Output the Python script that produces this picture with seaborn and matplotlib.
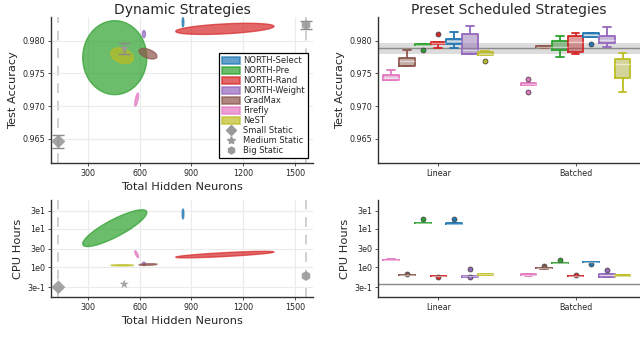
import numpy as np
import pandas as pd
import matplotlib
matplotlib.use("Agg")
import matplotlib.pyplot as plt
import seaborn as sns
from matplotlib.patches import Patch
from matplotlib.lines import Line2D

# ---------------- data ----------------
methods = ["NORTH-Select", "NORTH-Pre", "NORTH-Rand", "NORTH-Weight", "GradMax", "Firefly", "NeST"]
method_colors = ["#1f77b4", "#2ca02c", "#d62728", "#9467bd", "#8c564b", "#e377c2", "#bcbd22"]

# dynamic strategies: mean / spread of hidden neurons, accuracy, log10 CPU hours
neurons_mean = [851, 455, 1094, 624, 648, 582, 498]
neurons_spread = [5, 186, 285, 9, 52, 11, 65]
acc_mean = [0.9828, 0.9774, 0.9818, 0.9810, 0.9780, 0.9710, 0.9777]
acc_spread = [0.0007, 0.00565, 0.00085, 0.00055, 0.0008, 0.0010, 0.0012]
acc_corr = [0.0, 0.0, 0.45, 0.0, -0.5, 0.7, -0.3]
cpu_logmean = [1.39, 1.02, 0.33, 0.09, 0.07, 0.34, 0.05]
cpu_logspread = [0.13, 0.48, 0.085, 0.045, 0.022, 0.09, 0.016]
cpu_corr = [0.0, 0.85, 0.8, 0.0, 0.3, -0.8, 0.0]

static_names = ["Small Static", "Medium Static", "Big Static"]
static_markers = ["D", "*", "h"]
static_neurons = [128, 510, 1565]
static_acc = [0.9646, 0.9788, 0.9824]
static_acc_err = [0.0010, 0.0009, 0.0006]
static_cpu = [0.30, 0.36, 0.59]
static_cpu_err = [0.01, 0.01, 0.01]

# preset scheduled strategies (5 runs each)
schedules = ["Linear", "Batched"]
box_order = ["Firefly", "GradMax", "NORTH-Pre", "NORTH-Rand", "NORTH-Select", "NORTH-Weight", "NeST"]
acc_linear = {
    "Firefly": [0.9740, 0.9740, 0.9743, 0.9748, 0.9755],
    "GradMax": [0.9761, 0.9762, 0.9769, 0.9773, 0.9785],
    "NORTH-Pre": [0.97862, 0.9793, 0.9794, 0.9795, 0.9795],
    "NORTH-Rand": [0.97893, 0.97945, 0.9796, 0.97985, 0.98098],
    "NORTH-Select": [0.97893, 0.97945, 0.9799, 0.98025, 0.98135],
    "NORTH-Weight": [0.9779, 0.97797, 0.9785, 0.98098, 0.9823],
    "NeST": [0.97688, 0.97777, 0.9780, 0.97832, 0.97835],
}
acc_batched = {
    "Firefly": [0.9722, 0.97315, 0.9733, 0.9735, 0.9741],
    "GradMax": [0.9789, 0.9790, 0.97908, 0.9792, 0.9792],
    "NORTH-Pre": [0.97755, 0.97858, 0.9790, 0.97995, 0.98077],
    "NORTH-Rand": [0.97797, 0.97832, 0.97985, 0.98077, 0.98123],
    "NORTH-Select": [0.97955, 0.98052, 0.9808, 0.98113, 0.98115],
    "NORTH-Weight": [0.97904, 0.9796, 0.9801, 0.98072, 0.98205],
    "NeST": [0.97211, 0.97434, 0.9765, 0.9772, 0.97817],
}
cpu_linear = {
    "Firefly": [1.50, 1.52, 1.55, 1.58, 1.60],
    "GradMax": [0.62, 0.625, 0.63, 0.635, 0.67],
    "NORTH-Pre": [14.0, 14.2, 14.3, 14.5, 18.2],
    "NORTH-Rand": [0.55, 0.575, 0.58, 0.585, 0.59],
    "NORTH-Select": [13.2, 13.5, 13.8, 14.1, 18.5],
    "NORTH-Weight": [0.55, 0.57, 0.575, 0.58, 0.92],
    "NeST": [0.62, 0.63, 0.65, 0.67, 0.68],
}
cpu_batched = {
    "Firefly": [0.59, 0.61, 0.63, 0.66, 0.67],
    "GradMax": [0.92, 0.93, 0.94, 0.95, 1.08],
    "NORTH-Pre": [1.27, 1.29, 1.30, 1.32, 1.50],
    "NORTH-Rand": [0.58, 0.585, 0.59, 0.595, 0.64],
    "NORTH-Select": [1.20, 1.33, 1.35, 1.37, 1.38],
    "NORTH-Weight": [0.56, 0.57, 0.61, 0.655, 0.87],
    "NeST": [0.58, 0.59, 0.60, 0.61, 0.62],
}

cpu_ticks = [0.3, 1, 3, 10, 30]
cpu_ticklabels = ["3e-1", "1e0", "3e0", "1e1", "3e1"]

# ---------------- build tables ----------------
rows = []
for sched, accd, cpud in [("Linear", acc_linear, cpu_linear), ("Batched", acc_batched, cpu_batched)]:
    for m in box_order:
        for a, c in zip(accd[m], cpud[m]):
            rows.append({"Schedule": sched, "Method": m, "Test Accuracy": a, "CPU Hours": c})
df_box = pd.DataFrame(rows)

color_map = dict(zip(methods, method_colors))
palette = {m: color_map[m] for m in box_order}

# ---------------- figure ----------------
sns.set_theme(style="white")
plt.rcParams["font.family"] = ["DejaVu Sans"]
fig = plt.figure(figsize=(6.4, 3.44), dpi=100)

L, W = 0.0797, 0.409
R, WR = 0.5906, 0.4094
ax_tl = fig.add_axes([L, 0.526, W, 0.4244])
ax_bl = fig.add_axes([L, 0.1358, W, 0.2837])
ax_tr = fig.add_axes([R, 0.526, WR, 0.4244])
ax_br = fig.add_axes([R, 0.1358, WR, 0.2837])

t = np.linspace(0, 2 * np.pi, 200)

def ellipse_pts(cx, sx, cy, sy, rho):
    x = cx + sx * np.cos(t)
    y = cy + sy * (rho * np.cos(t) + np.sqrt(1 - rho ** 2) * np.sin(t))
    return x, y

gray = "#9a9a9a"
tick_fs = 5.8
label_fs = 8.2

for ax in (ax_tl, ax_bl):
    for xv in (static_neurons[0], static_neurons[2]):
        ax.axvline(xv, color="#d0d0d0", lw=1.4, ls=(0, (5, 4)), zorder=0)

# top-left: accuracy ellipses
for i, m in enumerate(methods):
    x, y = ellipse_pts(neurons_mean[i], neurons_spread[i], acc_mean[i], acc_spread[i], acc_corr[i])
    ax_tl.fill(x, y, facecolor=method_colors[i], alpha=0.7, edgecolor=method_colors[i], lw=1, zorder=2)

df_static = pd.DataFrame({"Neurons": static_neurons, "Acc": static_acc, "Err": static_acc_err,
                          "CPU": static_cpu, "Name": static_names})
for i in range(3):
    ax_tl.errorbar(static_neurons[i], static_acc[i], yerr=static_acc_err[i], fmt="none",
                   ecolor="#8a8a8a", elinewidth=1, capsize=4, zorder=4)
sns.scatterplot(data=df_static, x="Neurons", y="Acc", style="Name", markers=dict(zip(static_names, static_markers)),
                color=gray, s=50, edgecolor="none", alpha=0.9, legend=False, ax=ax_tl, zorder=5)
ax_tl.set_xlim(85, 1604)
ax_tl.set_ylim(0.9613, 0.9836)
ax_tl.set_xticks([300, 600, 900, 1200, 1500])
ax_tl.set_yticks([0.965, 0.970, 0.975, 0.980])
ax_tl.set_yticklabels(["0.965", "0.970", "0.975", "0.980"])
ax_tl.set_xlabel("Total Hidden Neurons", fontsize=label_fs, labelpad=3)
ax_tl.set_ylabel("Test Accuracy", fontsize=label_fs, labelpad=3)
ax_tl.set_title("Dynamic Strategies", fontsize=10, pad=2)

handles = [Patch(facecolor=c, edgecolor=c, alpha=0.7, lw=1.2) for c in method_colors]
handles += [Line2D([], [], ls="none", marker=mk, color=gray, markersize=5 if mk != "*" else 6) for mk in static_markers]
leg = ax_tl.legend(handles, methods + static_names, loc="lower right", fontsize=6,
                   frameon=True, fancybox=False, edgecolor="black", framealpha=1,
                   handlelength=2.2, handleheight=0.9, labelspacing=0.12, borderpad=0.35,
                   handletextpad=0.4, borderaxespad=0.6)
leg.get_frame().set_linewidth(0.9)

# bottom-left: CPU ellipses (log scale)
for i, m in enumerate(methods):
    x, ly = ellipse_pts(neurons_mean[i], neurons_spread[i], cpu_logmean[i], cpu_logspread[i], cpu_corr[i])
    ax_bl.fill(x, 10 ** ly, facecolor=method_colors[i], alpha=0.7, edgecolor=method_colors[i], lw=1, zorder=2)
sns.scatterplot(data=df_static, x="Neurons", y="CPU", style="Name", markers=dict(zip(static_names, static_markers)),
                color=gray, s=50, edgecolor="none", alpha=0.9, legend=False, ax=ax_bl, zorder=5)
ax_bl.set_yscale("log")
ax_bl.set_xlim(85, 1604)
ax_bl.set_ylim(0.164, 58)
ax_bl.set_xticks([300, 600, 900, 1200, 1500])
ax_bl.set_yticks(cpu_ticks)
ax_bl.set_yticklabels(cpu_ticklabels)
ax_bl.minorticks_off()
ax_bl.set_xlabel("Total Hidden Neurons", fontsize=label_fs, labelpad=3)
ax_bl.set_ylabel("CPU Hours", fontsize=label_fs, labelpad=3)

for ax in (ax_tl, ax_bl):
    ax.grid(True, color="#ebebeb", lw=0.8)
    ax.set_axisbelow(True)

# right: boxplots
def draw_boxes(ax, col, logy):
    common = dict(data=df_box, x="Schedule", y=col, hue="Method", order=schedules, hue_order=box_order,
                  palette=palette, width=0.8, legend=False, ax=ax)
    if logy:
        common["log_scale"] = (False, True)
    sns.boxplot(**common, fill=True, linewidth=0, showcaps=False, showfliers=False,
                boxprops=dict(alpha=0.5), whiskerprops=dict(alpha=0), medianprops=dict(alpha=0))
    sns.boxplot(**common, fill=False, linewidth=1.3,
                medianprops=dict(color="white", alpha=0.5, linewidth=1),
                flierprops=dict(marker="o", markersize=3.5))
    for ln in ax.lines:
        if ln.get_marker() == "o":
            c = ln.get_markeredgecolor()
            ln.set_markerfacecolor(c)
            ln.set_markeredgecolor("#444444")
            ln.set_markeredgewidth(0.6)

# reference band (medium static)
ax_tr.axhspan(static_acc[1] - static_acc_err[1], static_acc[1] + static_acc_err[1], color="#dcdcdc", lw=0, zorder=0)
ax_tr.axhline(static_acc[1], color="#8a8a8a", lw=1, zorder=0.5)
draw_boxes(ax_tr, "Test Accuracy", False)
ax_tr.set_ylim(0.9613, 0.9836)
ax_tr.set_yticks([0.965, 0.970, 0.975, 0.980])
ax_tr.set_yticklabels(["0.965", "0.970", "0.975", "0.980"])
ax_tr.set_xlim(-0.44, 1.47)
ax_tr.set_xlabel("")
ax_tr.set_ylabel("Test Accuracy", fontsize=label_fs, labelpad=3)
ax_tr.set_title("Preset Scheduled Strategies", fontsize=10, pad=2)

ax_br.axhspan(static_cpu[1] - static_cpu_err[1], static_cpu[1] + static_cpu_err[1], color="#dcdcdc", lw=0, zorder=0)
ax_br.axhline(static_cpu[1], color="#8a8a8a", lw=1, zorder=0.5)
draw_boxes(ax_br, "CPU Hours", True)
ax_br.set_yscale("log")
ax_br.set_ylim(0.164, 58)
ax_br.set_yticks(cpu_ticks)
ax_br.set_yticklabels(cpu_ticklabels)
ax_br.minorticks_off()
ax_br.set_xlim(-0.44, 1.47)
ax_br.set_xlabel("")
ax_br.set_ylabel("CPU Hours", fontsize=label_fs, labelpad=3)

for ax in (ax_tl, ax_bl, ax_tr, ax_br):
    for s in ("top", "right"):
        ax.spines[s].set_visible(False)
    for s in ("left", "bottom"):
        ax.spines[s].set_color("#333333")
        ax.spines[s].set_linewidth(1)
    ax.tick_params(axis="both", labelsize=tick_fs, length=2, width=0.6, color="#333333", pad=2,
                   bottom=True, left=True)

fig.savefig("out.png", dpi=100)
